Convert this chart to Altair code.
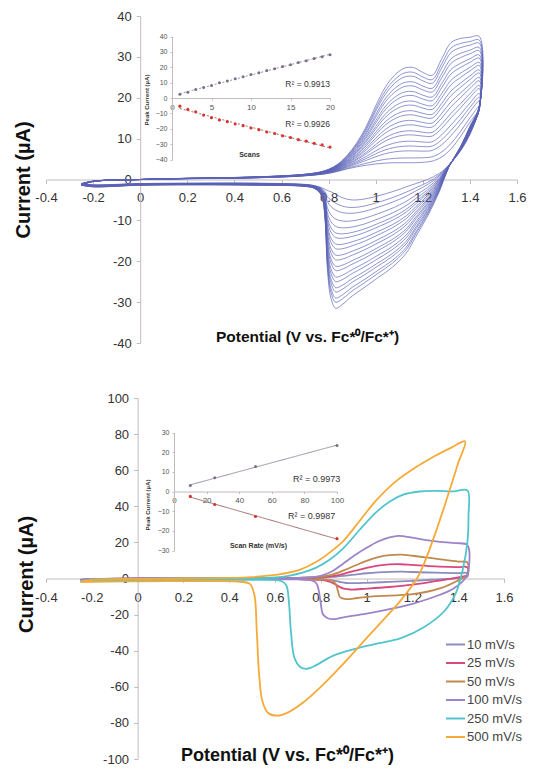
import altair as alt
import pandas as pd

FONT = "Liberation Sans"
AXIS_COLOR = "#c4bcbc"
TEXT_COLOR = "#333333"

X_TICKS = [-0.4, -0.2, 0, 0.2, 0.4, 0.6, 0.8, 1, 1.2, 1.4, 1.6]
TOP_Y_TICKS = [-40, -30, -20, -10, 0, 10, 20, 30, 40]
BOT_Y_TICKS = [-100, -80, -60, -40, -20, 0, 20, 40, 60, 80, 100]
X_TITLE = "Potential (V vs. Fc*⁰/Fc*⁺)"
Y_TITLE = "Current (µA)"

# ---------------- Top panel: 20 successive scans ----------------
SCAN_NUMBERS = list(range(1, 21))
SCAN_ANODIC_PEAK = [2.4, 3.7, 5.6, 6.9, 8.2, 9.9, 11.0, 12.6, 13.8, 15.3,
                    16.4, 17.9, 19.0, 20.5, 21.6, 23.1, 24.2, 25.7, 26.8, 28.1]
SCAN_CATHODIC_PEAK = [-5.3, -7.4, -9.0, -11.1, -12.8, -14.3, -15.4, -16.9, -18.0, -19.5,
                      -20.6, -22.1, -23.1, -24.6, -25.7, -27.1, -28.1, -29.5, -30.5, -31.9]

FWD_E = [-0.25, -0.2, 0.0, 0.2, 0.4, 0.6, 0.7, 0.76, 0.8, 0.84,
         0.88, 0.92, 0.96, 1.0, 1.04, 1.08, 1.12, 1.16, 1.2, 1.24,
         1.28, 1.32, 1.36, 1.4, 1.44]
FWD_I_SCAN1 = [-1.0, -0.4, 0.0, 0.2, 0.3, 0.6, 0.9, 1.2, 1.5, 2.0,
               2.6, 3.1, 3.5, 3.8, 4.0, 4.1, 4.1, 4.1, 4.2, 4.5,
               5.5, 7.5, 10.5, 14.0, 17.0]
FWD_I_SCAN20 = [-1.4, -0.5, 0.0, 0.3, 0.5, 0.9, 1.3, 1.8, 2.5, 3.8,
                6.0, 9.0, 13.0, 18.0, 22.5, 25.5, 27.2, 27.4, 26.2, 25.5,
                29.5, 33.5, 34.5, 34.8, 35.0]
REV_E = [1.44, 1.4, 1.36, 1.31, 1.27, 1.22, 1.17, 1.13, 1.07, 1.01,
         0.95, 0.9, 0.86, 0.83, 0.81, 0.795, 0.785, 0.77, 0.74, 0.7,
         0.5, 0.2, 0.0, -0.2, -0.25]
REV_I_SCAN1 = [17.0, 11.0, 7.0, 3.5, 1.5, 0.0, -1.0, -1.8, -3.0, -4.0,
               -4.8, -5.0, -4.5, -3.6, -3.0, -2.7, -2.4, -2.0, -1.5, -1.2,
               -0.9, -0.9, -1.0, -1.3, -1.0]
REV_I_SCAN20 = [18.0, 13.0, 8.0, 3.0, -3.0, -9.0, -14.0, -18.0, -21.5, -24.0,
                -26.5, -28.5, -30.5, -31.5, -29.0, -22.0, -10.0, -4.0, -2.2, -1.7,
                -1.4, -1.3, -1.4, -1.8, -1.4]

TOP_R2_LABELS = ["R² = 0.9913", "R² = 0.9926"]
TOP_R2_X = [20, 20]
TOP_R2_Y = [8.8, -17.2]

# ---------------- Bottom panel: scan rates ----------------
RATE_LABELS = ["10 mV/s", "25 mV/s", "50 mV/s", "100 mV/s", "250 mV/s", "500 mV/s"]
RATE_COLORS = ["#8e8cbc", "#d9487c", "#c08a4e", "#9c84c8", "#52c4cc", "#f5aa38"]

E_10 = [-0.25, -0.2, 0.0, 0.4, 0.7, 0.8, 0.85, 0.9, 0.95, 1.0, 1.05, 1.1, 1.15, 1.2, 1.3, 1.4, 1.44,
        1.44, 1.4, 1.3, 1.2, 1.1, 1.0, 0.95, 0.91, 0.88, 0.85, 0.8, 0.7, 0.4, 0.0, -0.2, -0.25]
I_10 = [-0.7, -0.2, 0.0, 0.1, 0.2, 0.5, 0.9, 1.5, 2.2, 2.9, 3.4, 3.7, 3.8, 3.6, 3.2, 3.0, 3.0,
        1.0, 0.2, -0.6, -1.3, -1.9, -2.4, -2.6, -2.5, -1.8, -1.0, -0.5, -0.3, -0.2, -0.3, -0.5, -0.7]
E_25 = [-0.25, -0.2, 0.0, 0.4, 0.7, 0.8, 0.85, 0.9, 0.95, 1.0, 1.05, 1.1, 1.15, 1.2, 1.3, 1.4, 1.44,
        1.44, 1.4, 1.3, 1.2, 1.1, 1.0, 0.93, 0.9, 0.88, 0.86, 0.83, 0.8, 0.7, 0.4, 0.0, -0.2, -0.25]
I_25 = [-0.8, -0.3, 0.0, 0.1, 0.3, 0.7, 1.3, 2.6, 4.3, 5.9, 7.1, 7.8, 7.9, 7.5, 6.7, 6.3, 6.2,
        2.0, 0.6, -1.5, -3.4, -4.7, -5.6, -6.1, -5.6, -4.5, -3.0, -1.5, -0.8, -0.4, -0.3, -0.4, -0.7, -0.8]
E_50 = [-0.25, -0.2, 0.0, 0.4, 0.7, 0.8, 0.85, 0.9, 0.95, 1.0, 1.05, 1.1, 1.15, 1.2, 1.3, 1.4, 1.44,
        1.44, 1.4, 1.33, 1.2, 1.04, 0.96, 0.91, 0.885, 0.875, 0.865, 0.85, 0.8, 0.7, 0.4, 0.0, -0.2, -0.25]
I_50 = [-0.9, -0.3, 0.0, 0.1, 0.4, 1.0, 2.2, 4.5, 7.2, 9.8, 11.8, 12.9, 13.2, 12.6, 11.0, 9.4, 8.9,
        2.0, -1.0, -5.0, -8.7, -9.8, -10.8, -11.4, -10.5, -7.0, -3.0, -1.2, -0.6, -0.4, -0.3, -0.4, -0.8, -0.9]
E_100 = [-0.25, -0.2, 0.0, 0.4, 0.7, 0.75, 0.8, 0.85, 0.9, 0.95, 1.0, 1.05, 1.1, 1.14, 1.2, 1.26, 1.32, 1.39, 1.44,
         1.445, 1.43, 1.38, 1.32, 1.2, 1.1, 1.0, 0.9, 0.86, 0.83, 0.81, 0.8, 0.79, 0.78, 0.76, 0.7, 0.4, 0.0, -0.2, -0.25]
I_100 = [-1.0, -0.4, 0.0, 0.1, 0.3, 0.6, 1.5, 4.0, 8.5, 13.0, 17.0, 20.5, 22.8, 23.6, 22.6, 21.2, 20.3, 19.6, 18.5,
         5.0, 0.0, -5.5, -9.0, -14.0, -17.0, -19.5, -21.5, -22.5, -22.0, -20.0, -14.0, -6.0, -2.5, -1.0, -0.5, -0.3, -0.4, -0.8, -1.0]
E_250 = [-0.25, -0.2, 0.0, 0.4, 0.6, 0.66, 0.72, 0.78, 0.84, 0.9, 0.97, 1.04, 1.1, 1.16, 1.23, 1.3, 1.38, 1.44,
         1.445, 1.44, 1.42, 1.39, 1.34, 1.25, 1.15, 1.05, 0.95, 0.85, 0.78, 0.74, 0.71, 0.685, 0.67, 0.66, 0.65, 0.63,
         0.5, 0.0, -0.2, -0.25]
I_250 = [-1.5, -0.5, -0.2, 0.0, 0.6, 1.5, 3.2, 6.0, 10.5, 17.0, 27.0, 36.5, 42.5, 46.5, 48.2, 48.5, 48.3, 48.8,
         35.0, 20.0, 5.0, -8.0, -18.0, -27.0, -33.0, -36.0, -39.0, -43.0, -48.0, -50.0, -49.0, -44.0, -30.0, -12.0, -4.0, -1.5,
         -0.8, -1.0, -1.3, -1.5]
E_500 = [-0.25, -0.2, 0.0, 0.2, 0.4, 0.5, 0.6, 0.7, 0.79, 0.85, 0.9, 0.97, 1.04, 1.12, 1.22, 1.3, 1.37, 1.43,
         1.4, 1.35, 1.3, 1.25, 1.22, 1.15, 1.08, 1.0, 0.9, 0.8, 0.72, 0.66, 0.61, 0.57, 0.545, 0.53, 0.52, 0.51, 0.49,
         0.45, 0.3, 0.0, -0.2, -0.25]
I_500 = [-2.0, -0.8, -0.3, 0.0, 0.3, 0.8, 2.0, 4.5, 10.0, 15.5, 21.0, 32.0, 43.0, 53.0, 62.0, 68.0, 72.5, 76.0,
         64.0, 44.0, 25.0, 8.0, 0.0, -12.0, -22.0, -33.0, -47.0, -60.0, -69.0, -74.0, -76.0, -74.5, -68.0, -52.0, -28.0, -9.0, -3.0,
         -1.8, -1.5, -1.6, -1.9, -2.0]

SCAN_RATES = [10, 25, 50, 100]
RATE_ANODIC_PEAK = [3.0, 7.0, 12.7, 23.4]
RATE_CATHODIC_PEAK = [-2.5, -6.6, -12.7, -24.0]
BOT_R2_LABELS = ["R² = 0.9973", "R² = 0.9987"]
BOT_R2_X = [102, 99]
BOT_R2_Y = [6.6, -12.7]

# ---------------- build tables ----------------
rows = []
a0, a1 = SCAN_ANODIC_PEAK[0], SCAN_ANODIC_PEAK[-1]
c0, c1 = SCAN_CATHODIC_PEAK[0], SCAN_CATHODIC_PEAK[-1]
for k, n in enumerate(SCAN_NUMBERS):
    wf = (SCAN_ANODIC_PEAK[k] - a0) / (a1 - a0)
    wr = (SCAN_CATHODIC_PEAK[k] - c0) / (c1 - c0)
    idx = 0
    for e, i1, i20 in zip(FWD_E, FWD_I_SCAN1, FWD_I_SCAN20):
        rows.append({"scan": n, "idx": idx, "E": e, "I": i1 + wf * (i20 - i1)})
        idx += 1
    for e, i1, i20 in zip(REV_E, REV_I_SCAN1, REV_I_SCAN20):
        rows.append({"scan": n, "idx": idx, "E": e, "I": i1 + wr * (i20 - i1)})
        idx += 1
top_df = pd.DataFrame(rows)

top_ano = pd.DataFrame({"scan": SCAN_NUMBERS, "peak": SCAN_ANODIC_PEAK})
top_cat = pd.DataFrame({"scan": SCAN_NUMBERS, "peak": SCAN_CATHODIC_PEAK})
top_r2 = pd.DataFrame({"scan": TOP_R2_X, "peak": TOP_R2_Y, "label": TOP_R2_LABELS})

curves = [(E_10, I_10), (E_25, I_25), (E_50, I_50), (E_100, I_100), (E_250, I_250), (E_500, I_500)]
brows = []
for lab, (es, cs) in zip(RATE_LABELS, curves):
    for j, (e, c) in enumerate(zip(es, cs)):
        brows.append({"rate": lab, "idx": j, "E": e, "I": c})
bot_df = pd.DataFrame(brows)

bot_ano = pd.DataFrame({"scan": SCAN_RATES, "peak": RATE_ANODIC_PEAK})
bot_cat = pd.DataFrame({"scan": SCAN_RATES, "peak": RATE_CATHODIC_PEAK})
bot_r2 = pd.DataFrame({"scan": BOT_R2_X, "peak": BOT_R2_Y, "label": BOT_R2_LABELS})

# ---------------- layout constants ----------------
TOP_W, TOP_H = 471, 327
BOT_W, BOT_H = 458, 361


def main_x(width, height, ydom, title_size, title_x, title_y, label_size, label_pad):
    frac0 = (0 - ydom[0]) / (ydom[1] - ydom[0])
    return alt.X("E:Q", scale=alt.Scale(domain=[-0.4, 1.6], nice=False, zero=False),
                 axis=alt.Axis(values=X_TICKS, labelExpr="'' + datum.value", orient="bottom",
                               offset=-frac0 * height, grid=False, domainColor=AXIS_COLOR,
                               tickColor=AXIS_COLOR, tickSize=4, labelFontSize=label_size,
                               labelFont=FONT, labelColor=TEXT_COLOR, labelPadding=label_pad,
                               labelFlush=False, labelOverlap=False,
                               title=X_TITLE, titleFont=FONT, titleFontSize=title_size,
                               titleFontWeight="bold", titleColor="#111111",
                               titleX=title_x, titleY=title_y, titleBaseline="middle",
                               titleAlign="center"))


def main_y(width, height, ydom, ticks, title_x, title_y, title_size, label_size):
    return alt.Y("I:Q", scale=alt.Scale(domain=ydom, nice=False, zero=False),
                 axis=alt.Axis(values=ticks, labelExpr="'' + datum.value", orient="left",
                               offset=-0.2 * width, grid=False, domainColor=AXIS_COLOR,
                               tickColor=AXIS_COLOR, tickSize=4, labelFontSize=label_size,
                               labelFont=FONT, labelColor=TEXT_COLOR, labelPadding=5,
                               labelFlush=False, labelOverlap=False,
                               title=Y_TITLE, titleFont=FONT, titleFontSize=title_size,
                               titleFontWeight="bold", titleColor="#111111",
                               titleX=title_x, titleY=title_y, titleAngle=-90,
                               titleBaseline="middle", titleAlign="center"))


def inset(ano_df, cat_df, r2_df, xdom, xrange, xticks, ydom, yrange, yticks, xtitle,
          xt_x, xt_y, yt_x, yt_y, height, dashed, r2_size):
    y0 = yrange[0] + (0 - ydom[0]) / (ydom[1] - ydom[0]) * (yrange[1] - yrange[0])
    ix = alt.X("scan:Q", scale=alt.Scale(domain=xdom, range=xrange, nice=False, zero=False),
               axis=alt.Axis(values=xticks, orient="bottom", offset=-(height - y0), grid=False,
                             domainColor=AXIS_COLOR, tickColor=AXIS_COLOR, tickSize=2,
                             labelFontSize=8, labelFont=FONT, labelColor="#555555",
                             labelPadding=3, labelFlush=False, labelOverlap=False,
                             title=xtitle, titleFont=FONT, titleFontSize=7, titleFontWeight="bold",
                             titleColor="#333333", titleX=xt_x, titleY=xt_y,
                             titleBaseline="middle", titleAlign="center"))
    iy = alt.Y("peak:Q", scale=alt.Scale(domain=ydom, range=yrange, nice=False, zero=False),
               axis=alt.Axis(values=yticks, orient="left", offset=-xrange[0], grid=False,
                             domainColor=AXIS_COLOR, tickColor=AXIS_COLOR, tickSize=2,
                             labelFontSize=7, labelFont=FONT, labelColor="#555555",
                             labelPadding=3, labelFlush=False, labelOverlap=False,
                             title="Peak Current (µA)", titleFont=FONT, titleFontSize=6,
                             titleFontWeight="bold", titleColor="#333333",
                             titleX=yt_x, titleY=yt_y, titleAngle=-90,
                             titleBaseline="middle", titleAlign="center"))
    dash = [2, 2] if dashed else [1, 0]
    ano = alt.Chart(ano_df)
    cat = alt.Chart(cat_df)
    layers = [
        ano.transform_regression("scan", "peak").mark_line(strokeDash=dash, color="#9a90a0", strokeWidth=1).encode(x=ix, y=iy),
        cat.transform_regression("scan", "peak").mark_line(strokeDash=dash, color="#a07070", strokeWidth=1).encode(x=ix, y=iy),
        ano.mark_circle(size=9, color="#7a6f8a", opacity=1).encode(x=ix, y=iy),
        cat.mark_circle(size=10, color="#d8342c", opacity=1).encode(x=ix, y=iy),
        alt.Chart(r2_df).mark_text(align="right", baseline="middle", font=FONT, fontSize=r2_size,
                                   color="#333333").encode(x=ix, y=iy, text="label:N"),
    ]
    return alt.layer(*layers)


# ---------------- top chart ----------------
top_cv = alt.Chart(top_df).mark_line(strokeWidth=0.8, color="#5a62b6", opacity=0.85,
                                      interpolate="catmull-rom").encode(
    x=main_x(TOP_W, TOP_H, [-40, 40], 15.5, 261, 157, 13, 8),
    y=main_y(TOP_W, TOP_H, [-40, 40], TOP_Y_TICKS, -117, TOP_H / 2, 20, 13),
    detail="scan:N",
    order="idx:Q",
)
top_inset = inset(top_ano, top_cat, top_r2, [0, 20], [126, 284], [0, 5, 10, 15, 20],
                  [-40, 40], [143.5, 20.5], TOP_Y_TICKS, "Scans",
                  203, 56.5, -26, 83.5, TOP_H, True, 8.5)
top = alt.layer(top_cv, top_inset).resolve_scale(x="independent", y="independent").properties(
    width=TOP_W, height=TOP_H)

# ---------------- bottom chart ----------------
bot_cv = alt.Chart(bot_df).mark_line(strokeWidth=1.8, interpolate="catmull-rom").encode(
    x=main_x(BOT_W, BOT_H, [-100, 100], 18, 241, 177, 13, 9),
    y=main_y(BOT_W, BOT_H, [-100, 100], BOT_Y_TICKS, -111.6, 176, 20, 13),
    color=alt.Color("rate:N", scale=alt.Scale(domain=RATE_LABELS, range=RATE_COLORS),
                    legend=alt.Legend(title=None, orient="none", legendX=399, legendY=236,
                                      symbolType="stroke", symbolStrokeWidth=2, symbolSize=361,
                                      labelFontSize=13, labelFont=FONT, labelColor="#444444",
                                      rowPadding=0.5, labelOffset=1)),
    detail="rate:N",
    order="idx:Q",
)
bot_inset = inset(bot_ano, bot_cat, bot_r2, [0, 100], [128, 291], [0, 20, 40, 60, 80, 100],
                  [-30, 30], [152.5, 34.5], [-30, -20, -10, 0, 10, 20, 30], "Scan Rate (mV/s)",
                  212, 54, -27, 106.5, BOT_H, False, 9)
bottom = alt.layer(bot_cv, bot_inset).resolve_scale(x="independent", y="independent").properties(
    width=BOT_W, height=BOT_H)

chart = (alt.vconcat(top, bottom, spacing=42)
         .resolve_scale(color="independent")
         .configure_view(stroke=None)
         .properties(background="white",
                     padding={"left": 5, "top": 2, "right": 0, "bottom": 0}))

chart.save("out.html", embed_options={"renderer": "svg", "actions": False})
